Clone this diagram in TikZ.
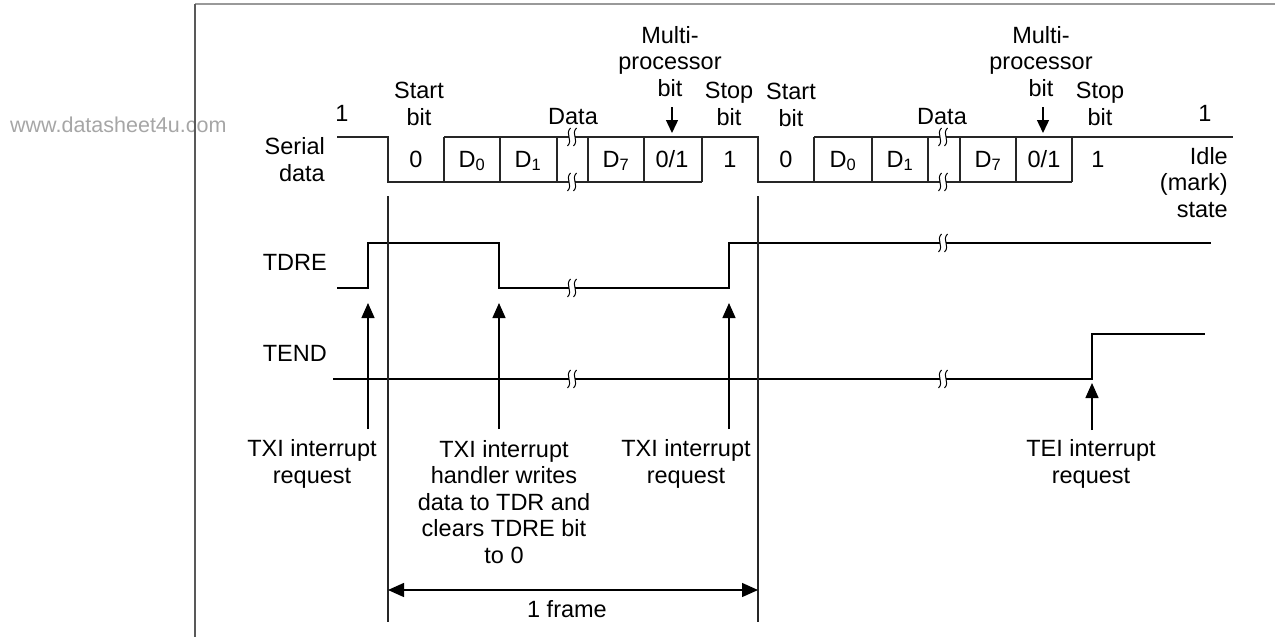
\documentclass[tikz,border=0pt]{standalone}
\usepackage{fontspec}
\setmainfont{Liberation Sans}
\usetikzlibrary{arrows.meta}
\tikzset{
  lbl/.style={font=\fontsize{23.5}{26.5}\selectfont, inner sep=0pt, align=center, anchor=base},
  rlbl/.style={font=\fontsize{23.5}{26.5}\selectfont, inner sep=0pt, align=right, anchor=base east},
  sig/.style={line width=2.4pt, line join=miter},
  ser/.style={line width=1.8pt, black!85, line join=miter},
  boxl/.style={line width=1.4pt, black!85},
  markerline/.style={line width=1.3pt, black!85},
  arr/.style={line width=1.4pt, -{Triangle[length=15pt,width=13pt]}},
  sarr/.style={line width=1.4pt, -{Triangle[length=13pt,width=12pt]}},
  darr/.style={line width=1.4pt, {Triangle[length=16pt,width=14pt]}-{Triangle[length=16pt,width=14pt]}},
  brk/.pic={
    \fill[white] (-3,-2.8) rectangle (3,2.8);
    \draw[line width=1pt] (-1.5,-9) .. controls (-7.5,-3) and (1.5,3) .. (-4.5,9);
    \draw[line width=1pt] (4.5,-9) .. controls (-1.5,-3) and (7.5,3) .. (1.5,9);
  }
}
\begin{document}
\begin{tikzpicture}[x=1pt,y=-1pt]
\useasboundingbox (0,0) rectangle (1275,637);
% watermark and frame
\node[font=\fontsize{21.5}{24}\selectfont, text=black!35, anchor=base west, inner sep=0pt] (wm) at (10,132) {www.datasheet4u.com};
\draw[black!40, line width=1.5pt] (195,4) -- (1275,4);
\draw[black!65, line width=1.2pt] (195,4) -- (195,637);

% serial data waveform
\draw[ser] (337,137) -- (388,137) -- (388,182) -- (702,182);
\draw[ser] (444,137) -- (758,137) -- (758,182) -- (1072,182);
\draw[ser] (814,137) -- (1233,137);
\foreach \x in {444,500,557,588,644,702,814,872,928,960,1016,1072}
  \draw[boxl] (\x,137) -- (\x,182);
\pic at (572,137) {brk};
\pic at (572,182) {brk};
\pic at (943,137) {brk};
\pic at (943,182) {brk};

% bit labels
\node[lbl] (s0a) at (416,167) {0};
\node[lbl] (d0a) at (472,167) {D\textsubscript{0}};
\node[lbl] (d1a) at (528,167) {D\textsubscript{1}};
\node[lbl] (d7a) at (616,167) {D\textsubscript{7}};
\node[lbl] (mpa) at (672,167) {0/1};
\node[lbl] (spa) at (730,167) {1};
\node[lbl] (s0b) at (786,167) {0};
\node[lbl] (d0b) at (843,167) {D\textsubscript{0}};
\node[lbl] (d1b) at (900,167) {D\textsubscript{1}};
\node[lbl] (d7b) at (988,167) {D\textsubscript{7}};
\node[lbl] (mpb) at (1044,167) {0/1};
\node[lbl] (spb) at (1098,167) {1};

% upper labels (anchor = baseline of last line)
\node[lbl] (one1) at (342,121) {1};
\node[lbl] (sta) at (419,125) {Start\\bit};
\node[lbl] (data) at (573,124) {Data};
\node[lbl] (mula) at (670,96) {Multi-\\processor\\bit};
\node[lbl] (stpa) at (729,125) {Stop\\bit};
\node[lbl] (stb) at (791,126) {Start\\bit};
\node[lbl] (datb) at (942,124) {Data};
\node[lbl] (mulb) at (1041,96) {Multi-\\processor\\bit};
\node[lbl] (stpb) at (1100,125) {Stop\\bit};
\node[lbl] (one2) at (1205,121) {1};
\node[rlbl] (idle) at (1228,217) {Idle\\(mark)\\state};
\node[rlbl] (serl) at (325,181) {Serial\\data};
\node[rlbl] (tdrel) at (327,270) {TDRE};
\node[rlbl] (tendl) at (327,361) {TEND};

\coordinate (mpas) at (672,107); \coordinate (mpae) at (672,133);
\coordinate (mpbs) at (1043,107); \coordinate (mpbe) at (1043,133);
\draw[sarr] (mpas) -- (mpae);
\draw[sarr] (mpbs) -- (mpbe);

% TDRE
\draw[sig] (337,288) -- (368,288) -- (368,243) -- (499,243) -- (499,288) -- (729,288) -- (729,243) -- (1211,243);
\pic at (572,288) {brk};
\pic at (943,243) {brk};

% TEND
\draw[sig] (333,379) -- (1092,379) -- (1092,334) -- (1205,334);
\pic at (572,379) {brk};
\pic at (943,379) {brk};

% frame markers
\coordinate (m1t) at (388,196); \coordinate (m1b) at (388,622);
\coordinate (m2t) at (758,196); \coordinate (m2b) at (758,622);
\draw[markerline] (m1t) -- (m1b);
\draw[markerline] (m2t) -- (m2b);

% interrupt arrows
\coordinate (a1s) at (368,429); \coordinate (a1e) at (368,303);
\coordinate (a2s) at (499,429); \coordinate (a2e) at (499,303);
\coordinate (a3s) at (729,429); \coordinate (a3e) at (729,303);
\coordinate (a4s) at (1092,430); \coordinate (a4e) at (1092,383);
\draw[arr] (a1s) -- (a1e);
\draw[arr] (a2s) -- (a2e);
\draw[arr] (a3s) -- (a3e);
\draw[arr] (a4s) -- (a4e);

\node[lbl] (txi1) at (312,483) {TXI interrupt\\request};
\node[lbl] (txi2) at (504,563) {TXI interrupt\\handler writes\\data to TDR and\\clears TDRE bit\\to 0};
\node[lbl] (txi3) at (686,483) {TXI interrupt\\request};
\node[lbl] (tei) at (1091,483) {TEI interrupt\\request};

% 1 frame
\coordinate (fl) at (388,590); \coordinate (fr) at (758,590);
\draw[darr] (fl) -- (fr);
\node[lbl] (frame) at (567,617) {1 frame};
\end{tikzpicture}
\end{document}
